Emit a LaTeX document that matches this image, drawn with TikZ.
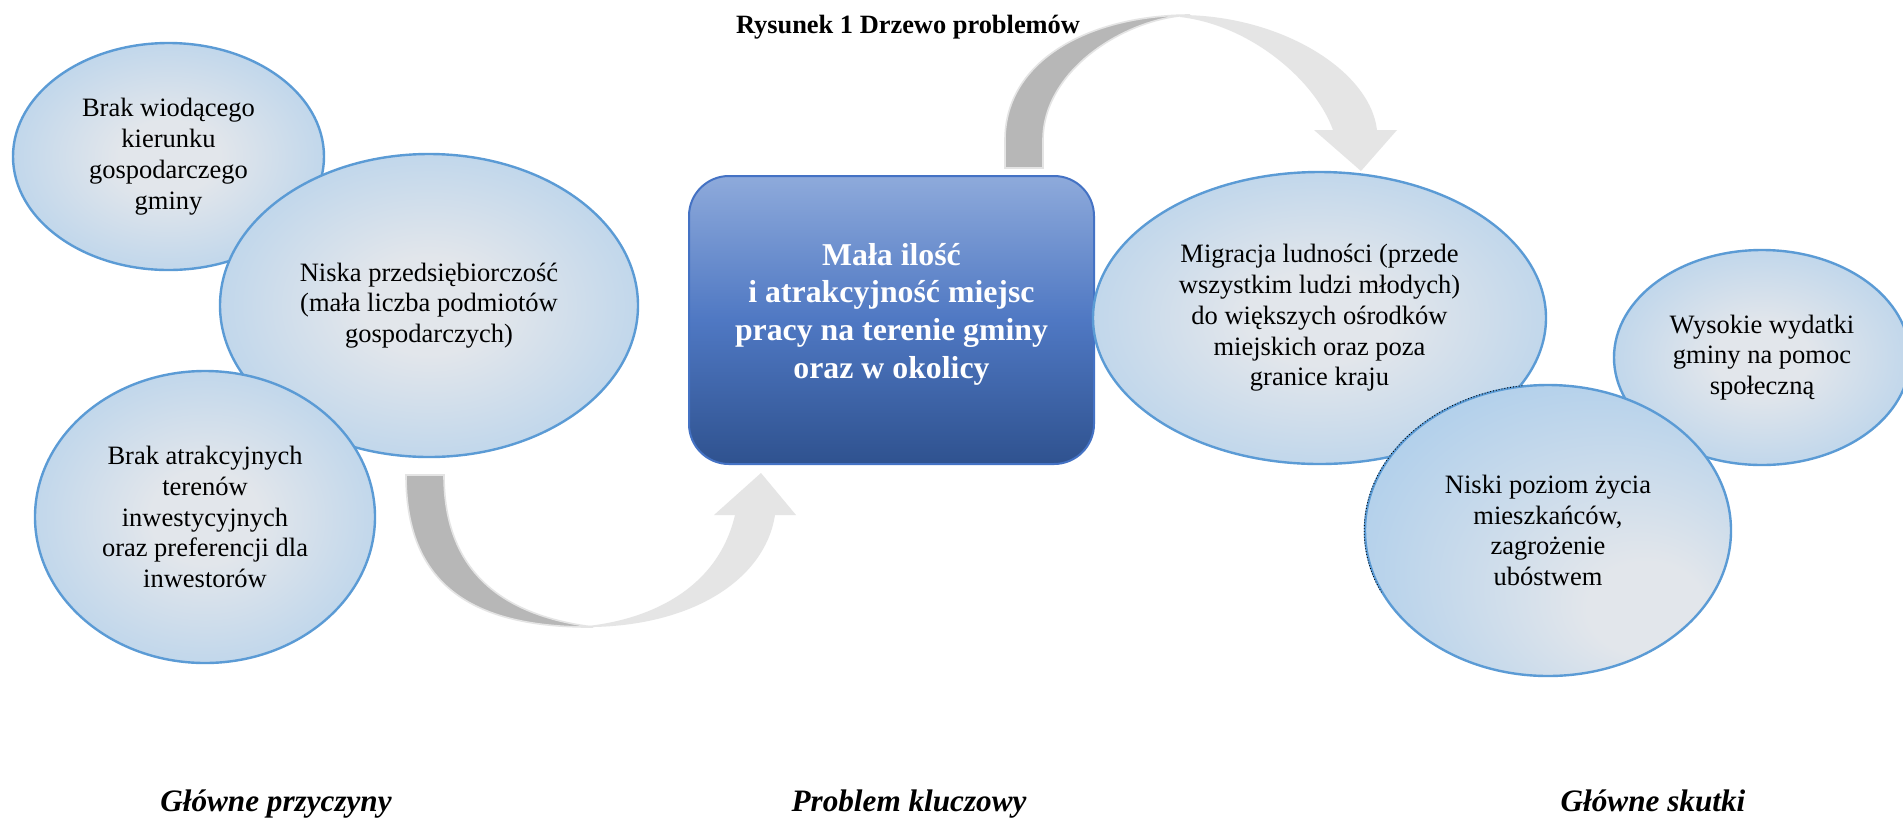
\documentclass[tikz,border=0pt]{standalone}
\usepackage{fontspec}
\setmainfont{Liberation Serif}
\usetikzlibrary{shapes.geometric}
\definecolor{bubC}{HTML}{E2E6EB}
\definecolor{bubM}{HTML}{B2D0EB}
\definecolor{bubE}{HTML}{D0E3F3}
\definecolor{bubL}{HTML}{5B9BD5}
\definecolor{keyT}{HTML}{8EAADB}
\definecolor{keyM}{HTML}{4F78C3}
\definecolor{keyB}{HTML}{2F528F}
\definecolor{keyL}{HTML}{4472C4}
\definecolor{arrD}{HTML}{B7B7B7}
\definecolor{arrL}{HTML}{E5E5E5}
\definecolor{arrO}{HTML}{E4E4E4}
\pgfdeclareradialshading{bubble}{\pgfpoint{0bp}{0bp}}{color(0bp)=(bubC); color(8bp)=(bubC); color(33bp)=(bubM); color(40bp)=(bubM); color(50bp)=(bubE)}
\pgfdeclareradialshading{bubbleoff}{\pgfpoint{16bp}{-16bp}}{color(0bp)=(bubC); color(8bp)=(bubC); color(33bp)=(bubM); color(40bp)=(bubM); color(50bp)=(bubE)}
\newcommand\mybody{\fontsize{13.25pt}{15.4pt}\selectfont}
\newcommand\mykey{\fontsize{15.9pt}{18.85pt}\selectfont\bfseries}
\newcommand\mylabel{\fontsize{15.6pt}{18pt}\selectfont\bfseries\itshape}
\newcommand\mytitle{\fontsize{13.2pt}{16pt}\selectfont\bfseries}
\tikzset{
  bub/.style={ellipse, draw=bubL, line width=1.2pt, shade, shading=bubble, inner sep=0pt, align=center, font=\mybody},
  keybox/.style={rectangle, rounded corners=20pt, draw=keyL, line width=1pt, top color=keyT, bottom color=keyB, middle color=keyM, minimum width=202.5pt, minimum height=144pt, inner sep=0pt},
  keytext/.style={text=white, font=\mykey, align=center, inner sep=0pt},
  darkband/.style={fill=arrD, draw=arrO, line width=0.8pt},
  lightband/.style={fill=arrL},
  caption/.style={anchor=base, font=\mylabel},
  selrim/.style={draw=black, densely dotted, line width=0.45pt},
}
\begin{document}
\begin{tikzpicture}[x=0.5pt, y=-0.5pt]
\useasboundingbox (0,0) rectangle (1903,821);
\fill[white] (0,0) rectangle (1903,821);

% title
\node[anchor=base, font=\mytitle] (title) at (908,33) {Rysunek 1 Drzewo problemów};

% top curved arrow (problem -> effects)
\fill[lightband] (1180,15) .. controls (1280,15) and (1370,70) .. (1377,130) -- (1397,130) -- (1361,171) -- (1314,130) -- (1333,130) .. controls (1315,80) and (1250,25) .. (1180,17) -- cycle;
\draw[darkband] (1005,168) -- (1005,140) .. controls (1005,60) and (1090,15) .. (1190,15) .. controls (1125,18) and (1043,70) .. (1043,140) -- (1043,168) -- cycle;

% bottom curved arrow (causes -> problem)
\fill[lightband] (575,627) .. controls (690,630) and (765,580) .. (775,515) -- (796,515) -- (761,473) -- (714,515) -- (735,515) .. controls (715,600) and (630,624) .. (575,627) -- cycle;
\draw[darkband] (406,475) -- (444,475) .. controls (444,570) and (500,615) .. (593,627) .. controls (460,628) and (406,575) .. (406,475) -- cycle;

% causes
\node[bub, minimum width=155.5pt, minimum height=113.5pt] (cA) at (168.5,156.5) {Brak wiodącego\\kierunku\\gospodarczego\\gminy};
\node[bub, minimum width=209pt, minimum height=151.5pt] (cB) at (429,305.5) {Niska przedsiębiorczość\\(mała liczba podmiotów\\gospodarczych)};
\node[bub, minimum width=170pt, minimum height=146pt] (cC) at (205,517) {Brak atrakcyjnych\\terenów\\inwestycyjnych\\oraz preferencji dla\\inwestorów};

% key problem
\node[keybox] (key) at (891.5,320) {};
\node[keytext] (keyt) at (891.5,314) {Mała ilość\\i atrakcyjność miejsc\\pracy na terenie gminy\\oraz w okolicy};

% effects
\node[bub, minimum width=226.5pt, minimum height=146pt] (eD) at (1319.5,318) {Migracja ludności (przede\\wszystkim ludzi młodych)\\do większych ośrodków\\miejskich oraz poza\\granice kraju};
\node[bub, minimum width=148pt, minimum height=107.5pt] (eE) at (1762,357.5) {Wysokie wydatki\\gminy na pomoc\\społeczną};
\node[bub, shading=bubbleoff, minimum width=183pt, minimum height=145.5pt] (eF) at (1548,530.5) {Niski poziom życia\\mieszkańców,\\zagrożenie\\ubóstwem};
\draw[selrim] ([shift={(98:91.9pt and 73.1pt)}]eF.center) arc[start angle=98, end angle=205, x radius=91.9pt, y radius=73.1pt];

% captions
\node[caption] (lc) at (276,811) {Główne przyczyny};
\node[caption] (lk) at (909,811) {Problem kluczowy};
\node[caption] (ls) at (1653,811) {Główne skutki};
\end{tikzpicture}
\end{document}
